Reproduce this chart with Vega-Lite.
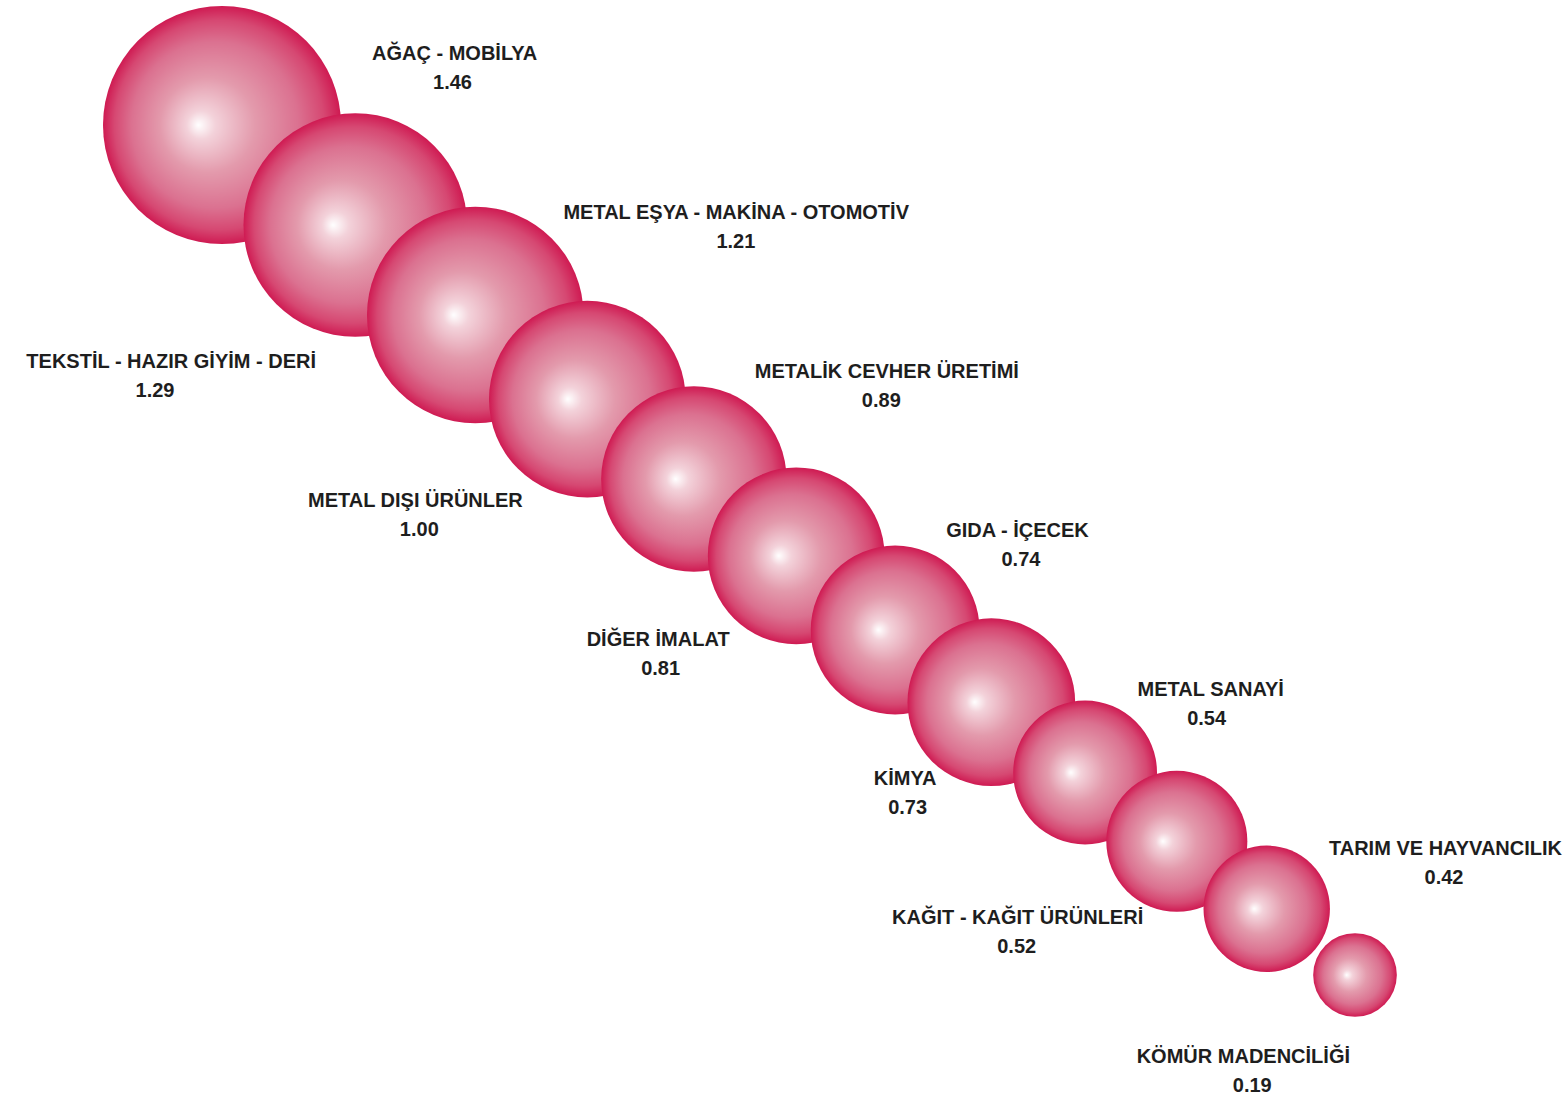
{
  "$schema": "https://vega.github.io/schema/vega-lite/v6.json",
  "width": 1566,
  "height": 1100,
  "autosize": "none",
  "padding": 0,
  "background": "white",
  "config": {"view": {"stroke": null}},
  "data": {
    "values": [
      {"rank": 1, "sector": "AĞAÇ - MOBİLYA", "value": 1.46},
      {"rank": 2, "sector": "TEKSTİL - HAZIR GİYİM - DERİ", "value": 1.29},
      {"rank": 3, "sector": "METAL EŞYA - MAKİNA - OTOMOTİV", "value": 1.21},
      {"rank": 4, "sector": "METAL DIŞI ÜRÜNLER", "value": 1.00},
      {"rank": 5, "sector": "METALİK CEVHER ÜRETİMİ", "value": 0.89},
      {"rank": 6, "sector": "DİĞER İMALAT", "value": 0.81},
      {"rank": 7, "sector": "GIDA - İÇECEK", "value": 0.74},
      {"rank": 8, "sector": "KİMYA", "value": 0.73},
      {"rank": 9, "sector": "METAL SANAYİ", "value": 0.54},
      {"rank": 10, "sector": "KAĞIT - KAĞIT ÜRÜNLERİ", "value": 0.52},
      {"rank": 11, "sector": "TARIM VE HAYVANCILIK", "value": 0.42},
      {"rank": 12, "sector": "KÖMÜR MADENCİLİĞİ", "value": 0.19}
    ]
  },
  "layer": [
    {
      "mark": {
        "type": "point",
        "shape": "circle",
        "filled": true,
        "opacity": 1,
        "strokeWidth": 0,
        "fill": {
          "gradient": "radial",
          "x1": 0.4, "y1": 0.5, "r1": 0,
          "x2": 0.5, "y2": 0.5, "r2": 0.5,
          "stops": [
            {"offset": 0, "color": "#ffffff"},
            {"offset": 0.12, "color": "#f3d2da"},
            {"offset": 0.4, "color": "#e39aac"},
            {"offset": 0.7, "color": "#db7190"},
            {"offset": 0.88, "color": "#d64872"},
            {"offset": 1, "color": "#cf1a52"}
          ]
        }
      },
      "encoding": {
        "x": {"field": "rank", "type": "quantitative", "axis": null,
              "scale": {"type": "pow", "exponent": 0.8, "domain": [1, 12], "range": [222, 1355], "zero": false, "nice": false}},
        "y": {"field": "rank", "type": "quantitative", "axis": null,
              "scale": {"type": "pow", "exponent": 0.8, "domain": [1, 12], "range": [125, 975], "zero": false, "nice": false}},
        "size": {"field": "value", "type": "quantitative", "legend": null,
                 "scale": {"domain": [0.19, 1.46], "range": [7000, 56650], "zero": false, "nice": false}}
      }
    },
    {
      "transform": [{"filter": "datum.rank % 2 == 1"}],
      "encoding": {
        "x": {"field": "rank", "type": "quantitative", "axis": null,
              "scale": {"domain": [1, 11], "range": [372, 1329], "zero": false, "nice": false}},
        "y": {"field": "rank", "type": "quantitative", "axis": null,
              "scale": {"domain": [1, 11], "range": [54, 849], "zero": false, "nice": false}}
      },
      "layer": [
        {
          "mark": {"type": "text", "align": "left", "baseline": "middle", "font": "Liberation Sans, Arial, sans-serif", "fontSize": 20, "fontWeight": "bold", "color": "#1e1e1e"},
          "encoding": {"text": {"field": "sector"}}
        },
        {
          "mark": {"type": "text", "align": "center", "baseline": "middle", "dy": 29, "dx": {"expr": "length(datum.sector) * 5.75"}, "font": "Liberation Sans, Arial, sans-serif", "fontSize": 20, "fontWeight": "bold", "color": "#1e1e1e"},
          "encoding": {"text": {"field": "value", "type": "quantitative", "format": ".2f"}}
        }
      ]
    },
    {
      "transform": [{"filter": "datum.rank % 2 == 0"}],
      "encoding": {
        "x": {"field": "rank", "type": "quantitative", "axis": null,
              "scale": {"domain": [2, 12], "range": [316, 1350], "zero": false, "nice": false}},
        "y": {"field": "rank", "type": "quantitative", "axis": null,
              "scale": {"domain": [2, 12], "range": [362, 1057], "zero": false, "nice": false}}
      },
      "layer": [
        {
          "mark": {"type": "text", "align": "right", "baseline": "middle", "font": "Liberation Sans, Arial, sans-serif", "fontSize": 20, "fontWeight": "bold", "color": "#1e1e1e"},
          "encoding": {"text": {"field": "sector"}}
        },
        {
          "mark": {"type": "text", "align": "center", "baseline": "middle", "dy": 29, "dx": {"expr": "-length(datum.sector) * 5.75"}, "font": "Liberation Sans, Arial, sans-serif", "fontSize": 20, "fontWeight": "bold", "color": "#1e1e1e"},
          "encoding": {"text": {"field": "value", "type": "quantitative", "format": ".2f"}}
        }
      ]
    }
  ],
  "resolve": {"scale": {"x": "independent", "y": "independent"}}
}
